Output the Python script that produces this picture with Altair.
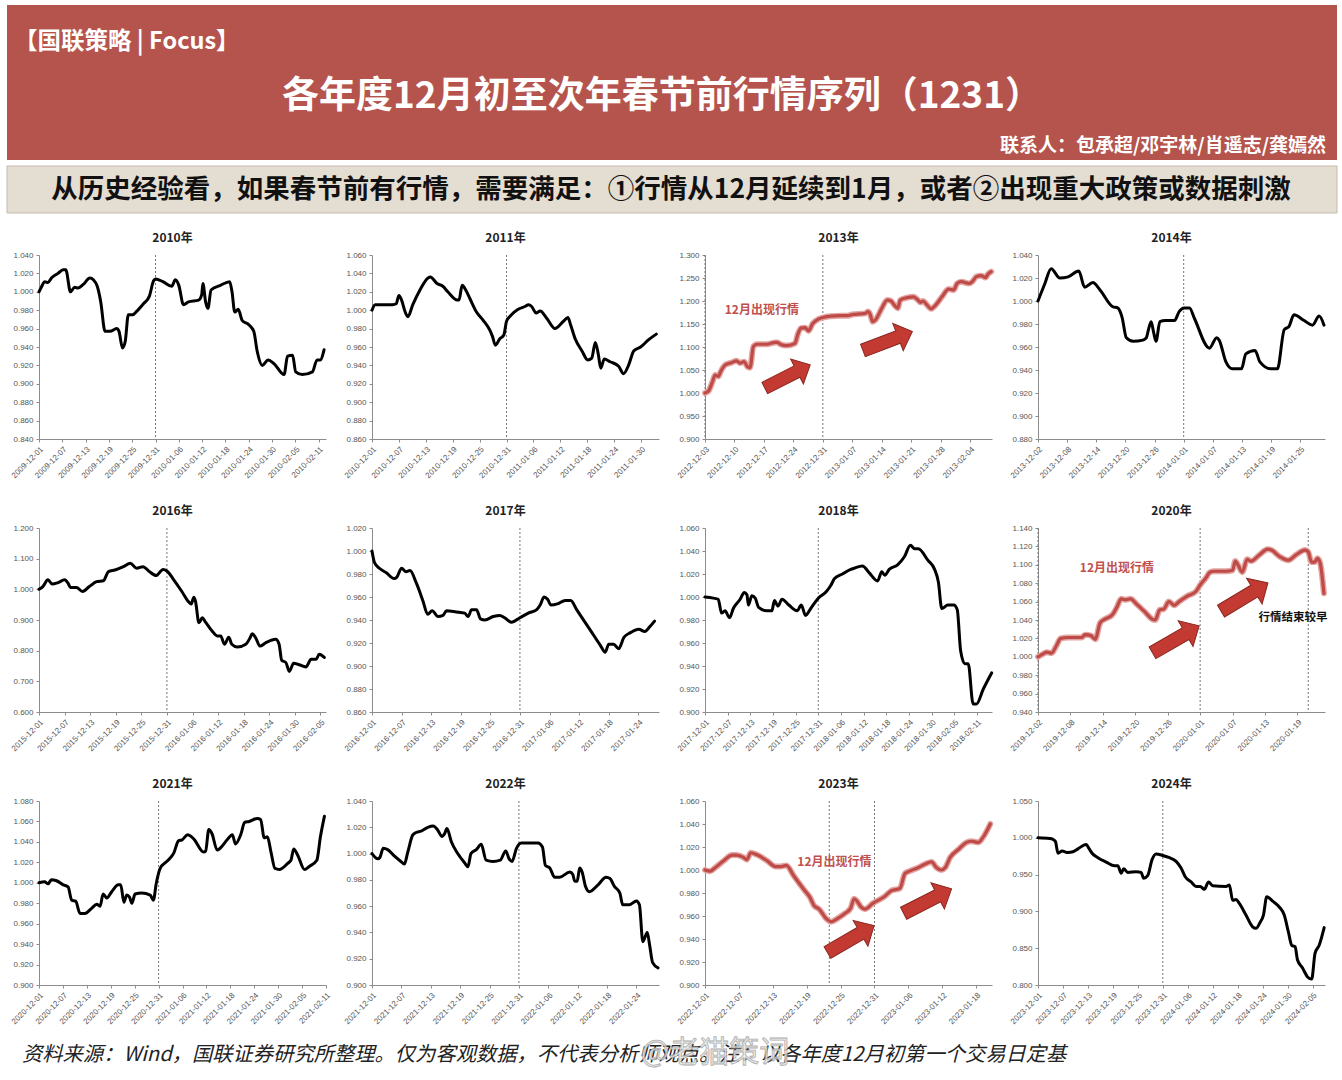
import altair as alt
import pandas as pd

CJK = "Noto Sans CJK SC"
LAB = "Liberation Sans"

HEADER_TAG = "【国联策略 | Focus】"
HEADER_TITLE = "各年度12月初至次年春节前行情序列（1231）"
HEADER_CONTACT = "联系人：包承超/邓宇林/肖遥志/龚嫣然"
SUBTITLE = "从历史经验看，如果春节前有行情，需要满足：①行情从12月延续到1月，或者②出现重大政策或数据刺激"
FOOTER = "资料来源：Wind，国联证券研究所整理。仅为客观数据，不代表分析师观点。注：以各年度12月初第一个交易日定基"
WATERMARK = "@老猫策词"

# x tick positions (days after first trading day of December)
TICKS6 = [0, 6, 12, 18, 24, 30, 36, 42, 48, 54, 60, 66, 72]
TICKS7 = [0, 7, 14, 21, 28, 35, 42, 49, 56, 63]

# (days since start, index value)
P2010 = [(0,1.000),(0.6,1.005),(1.5,1.011),(2.3,1.010),(3.2,1.015),(4.9,1.020),(6.2,1.024),(6.9,1.024),(8.1,1.000),(9.2,1.005),(10,1.004),(11.4,1.008),(13.1,1.015),(14,1.013),(15,1.006),(15.9,0.989),(17,0.957),(18.3,0.957),(20,0.960),(20.6,0.957),(21.5,0.939),(22.2,0.946),(23,0.975),(24.1,0.975),(25.2,0.979),(26.9,0.987),(28.4,0.995),(29.5,1.012),(30,1.014),(31.9,1.011),(34.2,1.006),(35.1,1.013),(36,1.007),(37.2,0.986),(38.5,0.989),(41.1,0.991),(41.9,0.997),(42.2,1.009),(42.9,0.989),(43.5,0.982),(44.3,1.002),(46.7,1.007),(49.1,1.011),(49.7,1.000),(50.4,0.978),(51.3,0.981),(52.3,0.969),(54.1,0.964),(55.3,0.957),(56.2,0.935),(57.5,0.920),(59,0.926),(60.5,0.922),(63.1,0.910),(64,0.930),(65.3,0.931),(66.1,0.913),(67.8,0.910),(70.4,0.913),(71.6,0.926),(72.4,0.926),(73.4,0.937)]
P2011 = [(0,1.000),(0.7,1.006),(1.6,1.006),(4.6,1.006),(5.4,1.007),(6,1.016),(6.6,1.011),(7.4,0.998),(8,0.993),(9.1,1.006),(10.7,1.022),(12.5,1.035),(13,1.036),(14.5,1.029),(15.8,1.026),(16.9,1.020),(19,1.011),(19.4,1.011),(20.1,1.027),(20.9,1.022),(21.8,1.013),(23.3,0.998),(24.8,0.989),(26.3,0.978),(26.9,0.971),(27.5,0.962),(28.5,0.969),(29.4,0.973),(30,0.988),(31.1,0.995),(32.6,1.001),(34.1,1.004),(34.9,1.006),(35.6,1.004),(36.6,0.997),(37.5,0.999),(39,0.991),(40.8,0.980),(42.7,0.988),(43.7,0.992),(44.3,0.984),(45.3,0.969),(46.8,0.956),(48.1,0.946),(49,0.948),(49.8,0.965),(50.5,0.951),(51,0.937),(51.8,0.947),(53.1,0.944),(55,0.939),(56.1,0.931),(57.2,0.940),(58.4,0.956),(59.9,0.960),(61.7,0.968),(63.4,0.974)]
P2013 = [(0,1.000),(0.8,1.004),(1.8,1.025),(2.4,1.039),(3.2,1.036),(3.7,1.046),(4.8,1.061),(6.3,1.066),(7.5,1.070),(8.3,1.065),(9.3,1.068),(10.1,1.057),(10.7,1.055),(11.5,1.101),(12.3,1.106),(14.7,1.106),(16.7,1.110),(17.2,1.110),(17.9,1.106),(19.4,1.103),(21.4,1.108),(22,1.126),(22.8,1.141),(23.8,1.142),(24.6,1.135),(25.6,1.151),(27,1.161),(28,1.164),(29.8,1.167),(32.1,1.168),(33.7,1.168),(35.3,1.171),(36.9,1.172),(38.1,1.173),(38.7,1.177),(39.3,1.170),(39.8,1.155),(40.5,1.159),(42,1.184),(43.3,1.202),(44.2,1.200),(45,1.191),(45.8,1.184),(46.4,1.202),(47.9,1.207),(49.6,1.209),(50.6,1.202),(51.2,1.197),(51.8,1.200),(52.8,1.191),(53.7,1.183),(54.8,1.191),(56.3,1.209),(57.9,1.226),(59.1,1.224),(59.9,1.238),(60.9,1.242),(62.7,1.238),(63.5,1.242),(64.5,1.253),(65.6,1.255),(66.7,1.251),(67.2,1.258),(68,1.264)]
P2014 = [(0,1.000),(1.4,1.015),(2.7,1.028),(4.5,1.020),(6.2,1.021),(8.4,1.026),(9.6,1.012),(11.3,1.016),(12.7,1.010),(15.4,0.995),(16.4,0.994),(17.3,0.986),(18.2,0.968),(19.6,0.965),(21.6,0.966),(22.3,0.968),(22.8,0.976),(23.3,0.982),(23.8,0.973),(24.3,0.965),(25.1,0.982),(26.2,0.983),(28.1,0.983),(29.1,0.991),(30.1,0.994),(31.2,0.994),(32.2,0.985),(35.3,0.959),(36.8,0.968),(37.3,0.966),(38.7,0.947),(40,0.941),(41.9,0.941),(42.8,0.954),(44.7,0.957),(45.7,0.947),(47.9,0.941),(49.3,0.941),(50.7,0.975),(51.7,0.978),(52.7,0.988),(54.8,0.983),(56.5,0.979),(57.9,0.987),(58.9,0.979)]
P2016 = [(0,1.000),(0.9,1.009),(2.1,1.031),(3.1,1.017),(4.5,1.022),(6,1.031),(6.8,1.020),(7.4,1.006),(8.8,1.006),(10.2,0.993),(11.8,1.009),(13.5,1.025),(15.1,1.028),(16.3,1.058),(17.8,1.063),(19.8,1.074),(21.4,1.085),(22.9,1.069),(24.4,1.074),(25.7,1.060),(27.5,1.045),(29.1,1.065),(30,1.060),(31.6,1.031),(33.5,0.993),(35.1,0.959),(35.7,0.952),(36.3,0.974),(36.7,0.961),(37.5,0.891),(38.3,0.907),(39,0.894),(40.6,0.864),(41.8,0.848),(42.6,0.848),(43.5,0.821),(44.5,0.844),(45.2,0.821),(46.5,0.812),(48.5,0.821),(49.5,0.842),(50,0.855),(50.8,0.842),(51.8,0.815),(53.2,0.826),(55.5,0.837),(56.3,0.821),(56.9,0.769),(57.9,0.761),(58.7,0.732),(59.7,0.759),(61,0.754),(62.6,0.747),(63.8,0.772),(65,0.772),(65.7,0.788),(66.9,0.778)]
P2017 = [(0,1.000),(0.5,0.990),(1.5,0.985),(2.9,0.981),(4.5,0.976),(5,0.977),(6,0.985),(6.9,0.982),(7.7,0.983),(9,0.972),(10.3,0.957),(11.3,0.945),(12.2,0.948),(13.4,0.943),(14.4,0.944),(15.1,0.948),(17.1,0.947),(18.8,0.946),(19.5,0.943),(20.2,0.949),(21.2,0.949),(22,0.941),(22.9,0.940),(24.6,0.943),(25.9,0.944),(26.9,0.942),(28.3,0.938),(30,0.942),(31.7,0.946),(33.4,0.949),(34.1,0.953),(34.9,0.960),(35.6,0.958),(36.3,0.953),(37.6,0.954),(39.2,0.957),(40.3,0.957),(41.5,0.949),(44.3,0.931),(46.3,0.918),(47.3,0.912),(48,0.919),(49,0.919),(50,0.915),(51.1,0.925),(52.4,0.929),(54.1,0.932),(55.3,0.930),(56.3,0.934),(57.3,0.939)]
P2018 = [(0,1.000),(2.2,0.999),(3.5,0.998),(4.4,0.986),(5.3,0.988),(6.5,0.982),(7.5,0.990),(9.3,0.998),(10.4,1.004),(11.1,1.002),(11.5,0.993),(12.4,1.001),(13.3,0.999),(14.2,0.991),(16.4,0.988),(17.7,0.988),(18.4,0.997),(19.3,0.992),(20.4,0.998),(22.2,0.993),(24.4,0.988),(25.5,0.993),(26.6,0.984),(28,0.990),(30,0.999),(32.2,1.005),(33.3,1.010),(34.3,1.016),(36.4,1.020),(38.6,1.024),(39.5,1.025),(41.7,1.027),(43.5,1.021),(45.7,1.014),(46.8,1.022),(47.6,1.019),(48.8,1.024),(51,1.028),(52.8,1.035),(54.4,1.045),(55.5,1.042),(56.5,1.042),(59,1.032),(60.8,1.024),(61.8,1.013),(62.7,0.990),(64.3,0.993),(65.9,0.993),(66.8,0.989),(67.7,0.953),(68.8,0.942),(69.7,0.942),(71,0.907),(71.9,0.907),(73.7,0.920),(75.9,0.934)]
P2020 = [(0,1.000),(0.9,1.003),(1.6,1.005),(2.5,1.004),(3.4,1.012),(4.2,1.020),(5.6,1.021),(8.1,1.021),(8.7,1.024),(9.8,1.023),(10.6,1.019),(11.5,1.037),(12.4,1.041),(13.8,1.046),(14.6,1.054),(15.4,1.063),(16.1,1.062),(17.1,1.063),(18.3,1.057),(19.9,1.048),(21.1,1.041),(21.7,1.040),(22.5,1.051),(23.3,1.052),(24.2,1.060),(25.2,1.056),(26.1,1.060),(27.6,1.066),(29.2,1.071),(30,1.078),(31.1,1.086),(31.8,1.092),(32.6,1.093),(34.8,1.093),(36,1.094),(36.5,1.104),(37,1.100),(37.8,1.092),(38.7,1.106),(39.4,1.104),(41,1.111),(42.5,1.117),(43.2,1.116),(44.7,1.109),(46.3,1.105),(47.8,1.111),(49.4,1.116),(50,1.114),(50.6,1.103),(51.2,1.103),(51.7,1.107),(52.2,1.102),(52.9,1.069)]
P2021 = [(0,1.000),(1.4,1.001),(2.3,0.999),(3.1,1.003),(4.4,1.002),(6.1,0.998),(7.3,0.996),(8.2,0.983),(9.2,0.982),(10.3,0.970),(11.5,0.970),(13.2,0.975),(14.5,0.979),(15.3,0.977),(16.1,0.989),(17,0.985),(18.2,0.991),(19.9,0.998),(20.5,0.998),(21.3,0.981),(22,0.988),(22.7,0.986),(23.3,0.980),(24.1,0.989),(25.8,0.990),(27.9,0.988),(28.7,0.983),(29.4,0.999),(30.4,1.014),(32.1,1.021),(33.8,1.029),(35,1.041),(35.9,1.042),(37.3,1.047),(38.8,1.043),(41.3,1.030),(41.8,1.031),(42.6,1.052),(43.4,1.048),(44.7,1.032),(45.5,1.034),(47.2,1.042),(48.5,1.047),(49.3,1.038),(50.6,1.047),(51.6,1.059),(52.7,1.060),(54.8,1.063),(55.6,1.062),(56.5,1.044),(57.3,1.045),(58.2,1.030),(59.2,1.014),(60.3,1.013),(62.4,1.019),(63.2,1.022),(63.9,1.033),(64.9,1.027),(66.6,1.013),(67.8,1.016),(69.7,1.022),(70.6,1.045),(71.6,1.065)]
P2022 = [(0,1.000),(1.2,0.996),(1.6,0.997),(2.3,1.004),(3.2,1.003),(4.6,0.998),(5.9,0.994),(6.6,0.992),(7.3,1.001),(8.3,1.014),(9,1.016),(10,1.017),(11.4,1.020),(12.5,1.021),(13.4,1.018),(14.3,1.013),(14.8,1.015),(15.3,1.019),(16.2,1.009),(17.5,1.000),(18.9,0.993),(19.6,0.990),(20.2,1.000),(21.3,1.003),(22.3,1.007),(23.3,0.995),(24.7,0.994),(26.2,0.995),(27.3,1.002),(28,0.996),(28.6,0.994),(29.5,1.004),(30.5,1.008),(32.2,1.008),(33.9,1.008),(34.8,1.005),(35.4,0.991),(36.3,0.989),(37.3,0.982),(38.3,0.982),(40.4,0.986),(41,0.984),(41.4,0.979),(41.9,0.979),(42.4,0.989),(42.9,0.986),(43.6,0.975),(44.4,0.971),(46.1,0.976),(47.8,0.982),(48.6,0.981),(49.5,0.975),(50.6,0.970),(51.2,0.961),(52.5,0.961),(54,0.964),(54.6,0.961),(55.3,0.933),(56.2,0.940),(56.7,0.930),(57.3,0.917),(58.4,0.913)]
P2023 = [(0,1.000),(0.9,0.999),(1.8,1.002),(3.3,1.008),(4.8,1.013),(5.6,1.013),(6.8,1.011),(7.4,1.009),(8.1,1.015),(9.3,1.013),(11,1.008),(12.5,1.003),(13.4,1.003),(14.4,1.004),(15.7,0.995),(17.5,0.983),(18.6,0.976),(19.3,0.969),(20.2,0.966),(21.4,0.958),(22.3,0.955),(23.5,0.958),(24.7,0.962),(25.8,0.967),(26.4,0.975),(26.9,0.973),(27.6,0.968),(28.3,0.966),(29.7,0.971),(31.8,0.977),(33,0.982),(34.5,0.984),(35.4,0.997),(36.2,0.999),(37.7,1.002),(38.9,1.005),(40.1,1.007),(41,1.002),(41.8,1.000),(42.5,1.002),(43.4,1.011),(44.9,1.018),(46.3,1.024),(47.2,1.025),(48.4,1.024),(49.3,1.029),(50.5,1.040)]
P2024 = [(0,1.000),(2.8,0.999),(3.6,0.998),(4.2,0.995),(4.8,0.979),(5.8,0.982),(7.2,0.980),(8.4,0.981),(9.6,0.985),(11.6,0.991),(12.2,0.986),(13,0.979),(14.4,0.973),(16.4,0.967),(18.4,0.962),(19.2,0.962),(20,0.952),(20.6,0.958),(21.6,0.953),(23.6,0.954),(24.8,0.953),(25.4,0.945),(26.4,0.949),(27.4,0.970),(28.4,0.978),(30,0.976),(31.6,0.973),(33.2,0.968),(34.4,0.959),(35.4,0.947),(36.8,0.940),(38,0.934),(39,0.934),(40,0.930),(41,0.940),(42,0.935),(45.2,0.934),(46,0.936),(46.8,0.915),(47.6,0.916),(48.4,0.911),(50,0.895),(51.6,0.879),(52.4,0.877),(53.4,0.885),(54.2,0.895),(55,0.920),(56.4,0.914),(58,0.906),(59.2,0.895),(60.2,0.872),(61,0.854),(61.8,0.852),(62.4,0.834),(63.6,0.823),(64.8,0.811),(65.8,0.808),(66.6,0.843),(67.6,0.854),(68.8,0.878)]

PANELS = [
    dict(title="2010年", start="2009-12-01", span=73.9, xt=TICKS6, ydom=[0.84, 1.04],
         yt=[0.84,0.86,0.88,0.90,0.92,0.94,0.96,0.98,1.00,1.02,1.04], pts=P2010, rules=[30]),
    dict(title="2011年", start="2010-12-01", span=64.0, xt=TICKS6, ydom=[0.86, 1.06],
         yt=[0.86,0.88,0.90,0.92,0.94,0.96,0.98,1.00,1.02,1.04,1.06], pts=P2011, rules=[30]),
    dict(title="2013年", start="2012-12-03", span=68.2, xt=TICKS7, ydom=[0.90, 1.30],
         yt=[0.90,0.95,1.00,1.05,1.10,1.15,1.20,1.25,1.30], pts=P2013, rules=[0, 28], red=True,
         labels=[(13.5, 1.180, "12月出现行情", "#C0504D", 12)],
         arrows=[(19.6, 1.036, 333, 2600), (43.4, 1.113, 339, 2800)]),
    dict(title="2014年", start="2013-12-02", span=59.1, xt=TICKS6, ydom=[0.88, 1.04],
         yt=[0.88,0.90,0.92,0.94,0.96,0.98,1.00,1.02,1.04], pts=P2014, rules=[30]),
    dict(title="2016年", start="2015-12-01", span=67.3, xt=TICKS6, ydom=[0.60, 1.20],
         yt=[0.60,0.70,0.80,0.90,1.00,1.10,1.20], pts=P2016, rules=[30]),
    dict(title="2017年", start="2016-12-01", span=58.2, xt=TICKS6, ydom=[0.86, 1.02],
         yt=[0.86,0.88,0.90,0.92,0.94,0.96,0.98,1.00,1.02], pts=P2017, rules=[30]),
    dict(title="2018年", start="2017-12-01", span=76.0, xt=TICKS6, ydom=[0.90, 1.06],
         yt=[0.90,0.92,0.94,0.96,0.98,1.00,1.02,1.04,1.06], pts=P2018, rules=[30]),
    dict(title="2020年", start="2019-12-02", span=53.1, xt=TICKS6, ydom=[0.94, 1.14],
         yt=[0.94,0.96,0.98,1.00,1.02,1.04,1.06,1.08,1.10,1.12,1.14], pts=P2020, rules=[0, 30, 50], red=True,
         labels=[(14.6, 1.096, "12月出现行情", "#C0504D", 12), (47.2, 1.042, "行情结束较早", "#111111", 11.5)],
         arrows=[(25.5, 1.019, 330, 2900), (38.2, 1.065, 329, 3000)]),
    dict(title="2021年", start="2020-12-01", span=72.0, xt=TICKS6, ydom=[0.90, 1.08],
         yt=[0.90,0.92,0.94,0.96,0.98,1.00,1.02,1.04,1.06,1.08], pts=P2021, rules=[30]),
    dict(title="2022年", start="2021-12-01", span=58.6, xt=TICKS6, ydom=[0.90, 1.04],
         yt=[0.90,0.92,0.94,0.96,0.98,1.00,1.02,1.04], pts=P2022, rules=[30]),
    dict(title="2023年", start="2022-12-01", span=50.8, xt=TICKS6, ydom=[0.90, 1.06],
         yt=[0.90,0.92,0.94,0.96,0.98,1.00,1.02,1.04,1.06], pts=P2023, rules=[22, 30], red=True,
         labels=[(22.9, 1.007, "12月出现行情", "#C0504D", 12)],
         arrows=[(25.8, 0.940, 330, 2900), (39.4, 0.973, 333, 2900)]),
    dict(title="2024年", start="2023-12-01", span=69.0, xt=TICKS6, ydom=[0.80, 1.05],
         yt=[0.80,0.85,0.90,0.95,1.00,1.05], pts=P2024, rules=[30]),
]

ARROW = "M -1 -0.25 L 0.42 -0.25 L 0.42 -0.55 L 1 0 L 0.42 0.55 L 0.42 0.25 L -1 0.25 Z"
PW, PH = 287, 184

# page decoration, positioned relative to the first panel's plot origin (page x 39, y 255)
OX, OY = 39, 255
one = pd.DataFrame({"a": [0]})


def page_layers():
    return [
        alt.Chart(one).mark_rect(color="white", opacity=0).encode(
            x=alt.value(0 - OX), x2=alt.value(1342 - OX), y=alt.value(0 - OY), y2=alt.value(1080 - OY)),
        alt.Chart(one).mark_rect(color="#B5544D").encode(
            x=alt.value(7 - OX), x2=alt.value(1337 - OX), y=alt.value(5 - OY), y2=alt.value(160 - OY)),
        alt.Chart(one).mark_text(align="left", baseline="middle", font=CJK, fontSize=23.5, fontWeight="bold",
                                 color="white").encode(x=alt.value(14 - OX), y=alt.value(42 - OY),
                                                       text=alt.value(HEADER_TAG)),
        alt.Chart(one).mark_text(align="center", baseline="middle", font=CJK, fontSize=37, fontWeight="bold",
                                 color="white").encode(x=alt.value(662 - OX), y=alt.value(97 - OY),
                                                       text=alt.value(HEADER_TITLE)),
        alt.Chart(one).mark_text(align="right", baseline="middle", font=CJK, fontSize=19, fontWeight="bold",
                                 color="white").encode(x=alt.value(1326 - OX), y=alt.value(146 - OY),
                                                       text=alt.value(HEADER_CONTACT)),
        alt.Chart(one).mark_rect(color="#E4DDD1", stroke="#C4BBAD", strokeWidth=1).encode(
            x=alt.value(7 - OX), x2=alt.value(1337 - OX), y=alt.value(166 - OY), y2=alt.value(213 - OY)),
        alt.Chart(one).mark_text(align="center", baseline="middle", font=CJK, fontSize=26.5, fontWeight="bold",
                                 color="#111111").encode(x=alt.value(671 - OX), y=alt.value(190 - OY),
                                                         text=alt.value(SUBTITLE)),
        alt.Chart(one).mark_text(align="left", baseline="middle", font=CJK, fontSize=20.3, fontStyle="italic",
                                 color="#222222").encode(x=alt.value(22 - OX), y=alt.value(1055 - OY),
                                                         text=alt.value(FOOTER)),
        alt.Chart(one).mark_text(align="center", baseline="middle", font=CJK, fontSize=30,
                                 color="#E8E8E8", stroke="#A0A0A0", strokeWidth=0.8, opacity=0.85).encode(
            x=alt.value(715 - OX), y=alt.value(1053 - OY), text=alt.value(WATERMARK)),
    ]


def make_panel(p, with_page=False):
    ms = int(pd.Timestamp(p["start"]).timestamp() * 1000)
    ticks = [t for t in p["xt"] if t <= p["span"]]
    x = alt.X("d:Q", title=None,
              scale=alt.Scale(domain=[0, p["span"]], nice=False, zero=False),
              axis=alt.Axis(values=ticks, labelAngle=-45, labelAlign="right", labelBaseline="top",
                            labelExpr=f"utcFormat({ms} + datum.value * 86400000, '%Y-%m-%d')",
                            labelOverlap=False, labelFlush=False, labelPadding=3))
    y = alt.Y("v:Q", title=None,
              scale=alt.Scale(domain=p["ydom"], nice=False, zero=False),
              axis=alt.Axis(values=p["yt"], format=".3f", labelOverlap=False, labelFlush=False,
                            labelPadding=3))
    df = pd.DataFrame(p["pts"], columns=["d", "v"])
    layers = page_layers() if with_page else []
    # panel title as a text mark (keeps it fixed above the plot area)
    layers.append(alt.Chart(one).mark_text(font=CJK, fontSize=12, fontWeight="bold", color="#222222",
                                           align="center", baseline="middle")
                  .encode(x=alt.value(PW / 2 - 10), y=alt.value(-17), text=alt.value(p["title"])))
    rdf = pd.DataFrame({"d": p["rules"]})
    layers.append(alt.Chart(rdf).mark_rule(color="#777777", strokeDash=[2, 2], strokeWidth=1).encode(x=x))
    if p.get("red"):
        layers.append(alt.Chart(df).mark_line(interpolate="monotone", color="#E3A6A3", strokeWidth=6,
                                              strokeCap="round", strokeJoin="round").encode(x=x, y=y))
        layers.append(alt.Chart(df).mark_line(interpolate="monotone", color="#BE4B47", strokeWidth=3.2,
                                              strokeCap="round", strokeJoin="round").encode(x=x, y=y))
    else:
        layers.append(alt.Chart(df).mark_line(interpolate="monotone", color="#000000", strokeWidth=3,
                                              strokeCap="round", strokeJoin="round").encode(x=x, y=y))
    for (d, v, txt, col, fs) in p.get("labels", []):
        ldf = pd.DataFrame({"d": [d], "v": [v], "t": [txt]})
        layers.append(alt.Chart(ldf).mark_text(font=CJK, fontSize=fs, fontWeight="bold", color=col)
                      .encode(x=x, y=y, text="t:N"))
    if p.get("arrows"):
        adf = pd.DataFrame(p["arrows"], columns=["d", "v", "ang", "sz"])
        layers.append(alt.Chart(adf).mark_point(shape=ARROW, filled=True, fill="#C23A32", stroke="#8C2620",
                                                strokeWidth=1, opacity=1, fillOpacity=1)
                      .encode(x=x, y=y, angle=alt.Angle("ang:Q", scale=None),
                              size=alt.Size("sz:Q", scale=None)))
    return alt.layer(*layers).properties(width=PW, height=PH)


panels = [make_panel(p, with_page=(i == 0)) for i, p in enumerate(PANELS)]

chart = alt.concat(*panels, columns=4, spacing={"column": 46, "row": 89}, bounds="flush").properties(
    padding={"left": 0, "top": 0, "right": 0, "bottom": 0}
).configure(background="white").configure_view(strokeWidth=0).configure_axis(
    labelFont=LAB, labelFontSize=8, labelColor="#555555", domainColor="#8C8C8C", domainWidth=1,
    tickColor="#8C8C8C", tickSize=3, grid=False, zindex=1
)

chart.save("out.html", embed_options={"renderer": "svg", "actions": False})
